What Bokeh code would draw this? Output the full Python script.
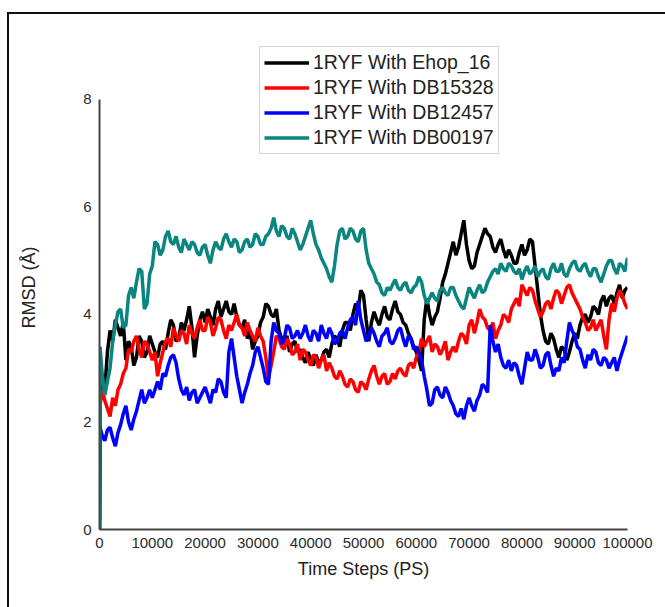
from bokeh.plotting import figure
from bokeh.models import Range1d, Legend, LegendItem, FixedTicker, BasicTickFormatter
from bokeh.embed import file_html
from bokeh.resources import INLINE

# time grid (ps): start, then every 500 ps
time_ps = [0, 100] + list(range(500, 100001, 500))

ehop_16 = [0, 2.4,
    2.8, 2.6, 3.3, 3.7, 3.5, 3.9, 3.75, 3.6, 3.85, 3.15,
    3.5, 3.4, 3.05, 3.2, 3.6, 3.5, 3.2, 3.3, 3.6, 3.45,
    3.3, 3.2, 3.45, 3.5, 3.35, 3.65, 3.9, 3.8, 3.5, 3.55,
    3.85, 3.7, 3.9, 4.15, 3.75, 3.2, 3.6, 3.9, 4.05, 3.85,
    4.1, 3.95, 3.8, 4.1, 4.25, 3.95, 4.1, 4.25, 4.05, 4.0,
    4.2, 3.95, 3.8, 3.75, 3.9, 3.55, 3.7, 3.35, 3.5, 3.6,
    3.85, 3.95, 4.2, 4.15, 4.0, 3.95, 4.1, 3.7, 3.55, 3.45,
    3.6, 3.3, 3.45, 3.5, 3.3, 3.35, 3.2, 3.1, 3.3, 3.15,
    3.05, 3.25, 3.1, 3.15, 3.3, 3.35, 3.2, 3.45, 3.6, 3.55,
    3.4, 3.7, 3.85, 3.85, 3.7, 4.0, 4.2, 4.1, 4.45, 4.35,
    3.9, 3.5, 3.85, 4.05, 3.9, 3.8, 4.0, 4.15, 3.95, 3.9,
    4.1, 4.25, 4.05, 4.0, 3.85, 3.8, 3.65, 3.55, 3.4, 3.3,
    3.15, 2.95, 3.9, 4.3, 4.0, 3.8, 3.95, 4.05, 4.3, 4.6,
    4.75, 4.95, 5.15, 5.35, 5.1, 5.25, 5.5, 5.75, 5.3, 5.0,
    4.85, 4.9, 5.15, 5.3, 5.45, 5.6, 5.5, 5.45, 5.25, 5.15,
    5.3, 5.4, 5.2, 5.05, 5.2, 5.1, 4.95, 4.95, 5.15, 5.3,
    5.1, 5.2, 5.4, 5.35, 4.9, 4.45, 4.0, 3.7, 3.5, 3.45,
    3.65, 3.55, 3.35, 3.2, 3.4, 3.35, 3.15, 3.3, 3.5, 3.65,
    3.55, 3.8, 3.95, 4.0, 3.85, 3.95, 4.15, 4.1, 4.0, 4.25,
    4.35, 4.15, 4.3, 4.35, 4.2, 4.4, 4.55, 4.3, 4.45, 4.5]

db15328 = [0, 2.3,
    2.6, 2.4, 2.25, 2.1, 2.45, 2.3, 2.6, 2.7, 2.9, 3.0,
    3.35, 3.3, 3.5, 3.6, 3.35, 3.2, 3.5, 3.45, 3.3, 3.15,
    3.3, 2.85, 3.1, 3.3, 3.5, 3.55, 3.4, 3.75, 3.6, 3.5,
    3.7, 3.65, 3.45, 3.8, 3.65, 3.55, 3.75, 3.9, 3.7, 3.7,
    3.95, 3.85, 3.6, 3.75, 3.95, 3.9, 3.7, 3.55, 3.8, 3.7,
    3.85, 4.0, 3.8, 3.75, 3.6, 3.85, 3.7, 3.6, 3.5, 3.75,
    3.6, 3.5, 3.2, 2.8, 3.05, 3.3, 3.6, 3.55, 3.4, 3.35,
    3.55, 3.45, 3.25, 3.3, 3.45, 3.15, 3.35, 3.3, 3.15, 3.05,
    3.25, 3.2, 3.0, 3.15, 3.25, 2.95, 3.1, 3.0, 2.85, 2.8,
    2.95, 2.85, 2.7, 2.65, 2.8, 2.75, 2.6, 2.55, 2.75, 2.7,
    2.6, 2.8, 2.95, 3.05, 2.85, 2.7, 2.85, 2.9, 2.7, 2.75,
    2.9, 2.8, 2.95, 3.0, 2.9, 2.85, 3.05, 3.1, 3.0, 3.2,
    3.3, 3.55, 3.4, 3.5, 3.6, 3.3, 3.45, 3.4, 3.25, 3.35,
    3.5, 3.15, 3.3, 3.4, 3.3, 3.5, 3.65, 3.6, 3.45, 3.8,
    3.9, 3.65, 3.85, 4.1, 3.95, 3.9, 3.75, 3.7, 3.85, 3.55,
    3.7, 3.8, 4.0, 3.95, 3.85, 4.1, 4.2, 4.3, 4.15, 4.55,
    4.45, 4.35, 4.5, 4.45, 4.25, 4.1, 3.95, 4.05, 4.2, 4.25,
    4.1, 4.3, 4.45, 4.4, 4.2, 4.35, 4.5, 4.55, 4.4, 4.3,
    4.2, 4.1, 3.95, 3.85, 3.7, 3.75, 3.9, 3.7, 3.8, 3.9,
    3.6, 3.35, 3.9, 4.2, 4.05, 4.3, 4.45, 4.35, 4.2, 4.1]

db12457 = [0, 1.9,
    1.75, 1.65, 1.85, 1.9, 1.7, 1.55, 1.8, 1.95, 2.15, 2.3,
    2.0, 1.85, 2.05, 2.2, 2.4, 2.6, 2.35, 2.45, 2.6, 2.45,
    2.6, 2.75, 2.6, 2.9, 2.85, 3.05, 3.2, 3.25, 3.1, 2.8,
    2.6, 2.5, 2.65, 2.4, 2.55, 2.6, 2.35, 2.45, 2.55, 2.65,
    2.5, 2.35, 2.6, 2.55, 2.8, 2.75, 2.55, 2.45, 3.3, 3.55,
    3.2, 2.85, 2.6, 2.35, 2.55, 2.7, 2.9, 3.05, 3.3, 3.4,
    3.2, 3.0, 2.75, 2.7, 3.5, 3.85, 3.7, 3.65, 3.45, 3.55,
    3.8, 3.75, 3.55, 3.6, 3.7, 3.55, 3.65, 3.8, 3.6, 3.5,
    3.7, 3.65, 3.5, 3.8, 3.65, 3.55, 3.75, 3.65, 3.45, 3.5,
    3.65, 3.7, 3.55, 3.75, 3.9, 3.95, 3.8, 4.25, 3.9, 3.7,
    3.5, 3.6, 3.75, 3.65, 3.5, 3.4, 3.6, 3.65, 3.75, 3.5,
    3.45, 3.55, 3.7, 3.75, 3.55, 3.4, 3.6, 3.55, 3.35, 3.4,
    3.3, 3.15, 2.85, 2.6, 2.3, 2.35, 2.6, 2.65, 2.5, 2.45,
    2.65, 2.55, 2.4, 2.3, 2.15, 2.1, 2.25, 2.05, 2.3, 2.45,
    2.3, 2.2, 2.4, 2.5, 2.7, 2.65, 2.55, 3.8, 3.5, 3.3,
    3.45, 3.2, 3.05, 3.0, 3.15, 2.95, 3.1, 3.05, 2.85, 2.7,
    3.0, 3.3, 3.15, 3.15, 3.35, 3.2, 3.0, 3.05, 3.25, 3.3,
    3.05, 2.85, 3.0, 2.95, 3.2, 3.1, 3.5, 3.85, 3.7, 3.6,
    3.4, 3.35, 3.15, 3.0, 3.25, 3.15, 3.35, 3.3, 3.1, 3.05,
    3.2, 3.15, 3.0, 3.1, 3.2, 2.95, 3.15, 3.3, 3.45, 3.6]

db00197 = [0, 3.4,
    2.9, 2.5, 2.75, 3.0, 3.5, 3.8, 4.05, 4.1, 3.75, 3.8,
    4.35, 4.5, 4.3, 4.6, 4.85, 4.8, 4.1, 4.2, 4.75, 4.9,
    5.35, 5.3, 5.1, 5.2, 5.45, 5.55, 5.35, 5.3, 5.45, 5.25,
    5.15, 5.4, 5.3, 5.2, 5.35, 5.3, 5.15, 5.1, 5.25, 5.3,
    5.1, 4.95, 5.2, 5.35, 5.25, 5.2, 5.4, 5.5, 5.35, 5.25,
    5.4, 5.35, 5.15, 5.2, 5.35, 5.4, 5.25, 5.3, 5.5, 5.45,
    5.3, 5.3, 5.45, 5.5, 5.6, 5.8, 5.55, 5.45, 5.65, 5.6,
    5.45, 5.4, 5.6, 5.5, 5.35, 5.2, 5.3, 5.45, 5.6, 5.75,
    5.5, 5.3, 5.2, 5.05, 4.95, 4.85, 4.7, 4.6, 4.9, 5.3,
    5.55, 5.6, 5.4, 5.45, 5.6, 5.55, 5.4, 5.35, 5.55, 5.6,
    5.2, 4.95, 4.85, 4.75, 4.6, 4.55, 4.4, 4.35, 4.5, 4.45,
    4.55, 4.65, 4.5, 4.45, 4.55, 4.6, 4.45, 4.4, 4.5, 4.55,
    4.7, 4.6, 4.35, 4.2, 4.3, 4.4, 4.3, 4.25, 4.45, 4.5,
    4.4, 4.35, 4.5, 4.5, 4.35, 4.25, 4.15, 4.1, 4.3, 4.5,
    4.4, 4.3, 4.45, 4.55, 4.4, 4.45, 4.6, 4.7, 4.8, 4.85,
    4.75, 4.95, 4.85, 4.8, 4.95, 4.9, 4.8, 4.75, 4.85, 4.65,
    4.8, 4.9, 4.75, 4.8, 4.9, 4.7, 4.8, 4.85, 4.7, 4.65,
    4.85, 4.95, 4.8, 4.8, 4.95, 4.75, 4.7, 4.85, 4.95, 5.0,
    4.85, 4.8, 4.9, 4.95, 4.8, 4.7, 4.85, 4.85, 4.7, 4.6,
    4.75, 4.9, 5.0, 5.0, 4.85, 4.75, 4.95, 4.9, 4.8, 5.05]

series_names = ["1RYF With Ehop_16", "1RYF With DB15328",
                "1RYF With DB12457", "1RYF With DB00197"]
series_values = [ehop_16, db15328, db12457, db00197]
series_colors = ["#000000", "#ff0000", "#0000ff", "#0b8580"]

x_ticks = [0, 10000, 20000, 30000, 40000, 50000, 60000, 70000, 80000, 90000, 100000]
y_ticks = [0, 2, 4, 6, 8]

FONT = "Liberation Sans"

p = figure(width=658, height=595, output_backend="svg", toolbar_location=None,
           x_range=Range1d(0, 100000), y_range=Range1d(0, 9.0),
           min_border_left=90, min_border_right=40, min_border_top=31,
           min_border_bottom=80, margin=(12, 0, 0, 7))
p.styles = {"border-left": "2px solid #111", "border-top": "2px solid #111"}
p.outline_line_color = None
p.grid.visible = False

for ax in (p.xaxis[0], p.yaxis[0]):
    ax.axis_line_color = "#444444"
    ax.axis_line_width = 2
    ax.major_tick_line_color = None
    ax.minor_tick_line_color = None
    ax.major_label_text_font = FONT
    ax.major_label_text_font_size = "15px"
    ax.major_label_text_color = "#2a2a2a"
    ax.axis_label_text_font = FONT
    ax.axis_label_text_font_size = "18px"
    ax.axis_label_text_font_style = "normal"
    ax.axis_label_text_color = "#222222"

p.xaxis.ticker = FixedTicker(ticks=x_ticks)
p.yaxis.ticker = FixedTicker(ticks=y_ticks)
p.xaxis.formatter = BasicTickFormatter(use_scientific=False)
p.xaxis.bounds = (0, 100000)
p.yaxis.bounds = (0, 8)
p.xaxis.major_label_standoff = 2
p.yaxis.major_label_standoff = 2
p.xaxis.axis_label = "Time Steps (PS)"
p.yaxis.axis_label = "RMSD (Å)"
p.xaxis.axis_label_standoff = 8
p.yaxis.axis_label_standoff = 41

items = []
for name, vals, col in zip(series_names, series_values, series_colors):
    r = p.line(time_ps, vals, line_color=col, line_width=3.5)
    items.append(LegendItem(label=name, renderers=[r]))

legend = Legend(items=items, location=(160, 375), orientation="vertical",
                label_text_font=FONT, label_text_font_size="19.5px",
                label_text_color="#222222", glyph_width=45, glyph_height=21,
                label_height=21, label_standoff=4, spacing=2, padding=4,
                margin=0, border_line_color="#aaaaaa", border_line_width=1,
                background_fill_color="white", background_fill_alpha=1)
p.add_layout(legend, "center")

open("out.html", "w").write(file_html(p, INLINE))
